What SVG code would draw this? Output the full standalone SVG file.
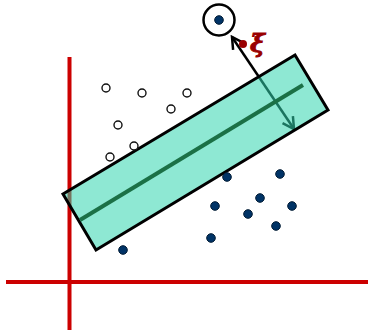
<svg xmlns="http://www.w3.org/2000/svg" width="368" height="332" viewBox="0 0 368 332">
<style>
.axis{stroke:#cc0000;stroke-width:4;fill:none}
.open{fill:#fff;stroke:#111;stroke-width:1.4}
.full{fill:#003366;stroke:#001a33;stroke-width:1}
.band{fill:#31d5af;fill-opacity:0.55;stroke:#000;stroke-width:3;stroke-linejoin:miter}
.mid{stroke:#1b7046;stroke-width:4;stroke-linecap:butt}
.arrow{stroke:#000;stroke-width:2.5;fill:none}
.xi{font-family:"DejaVu Serif",serif;font-style:italic;font-weight:bold;font-size:25px;fill:#990000;stroke:#990000;stroke-width:1}
</style>
<defs>
<marker id="ah" viewBox="0 0 12 12" refX="10" refY="6" markerWidth="6" markerHeight="6" orient="auto-start-reverse" markerUnits="strokeWidth">
<path d="M1,1 L10,6 L1,11" fill="none" stroke="#000" stroke-width="2"/>
</marker>
</defs>
<g id="axes">
<line class="axis" x1="6" y1="282" x2="368" y2="282"/>
<line class="axis" x1="69.5" y1="57" x2="69.5" y2="330"/>
</g>
<g id="connectors">
<line class="arrow" x1="232" y1="37" x2="294" y2="129" marker-start="url(#ah)" marker-end="url(#ah)"/>
</g>
<g id="margin">
<polygon class="band" points="63,194 295,55 328,110 96,250"/>
<line class="mid" x1="80" y1="220" x2="303" y2="85"/>
</g>
<g id="class-open">
<circle class="open" cx="106" cy="88" r="4"/>
<circle class="open" cx="142" cy="93" r="4"/>
<circle class="open" cx="187" cy="93" r="4"/>
<circle class="open" cx="171" cy="109" r="4"/>
<circle class="open" cx="118" cy="125" r="4"/>
<circle class="open" cx="134" cy="146" r="4"/>
<circle class="open" cx="110" cy="157" r="4"/>
</g>
<g id="class-filled">
<circle class="full" cx="227" cy="177" r="4.3"/>
<circle class="full" cx="280" cy="174" r="4.3"/>
<circle class="full" cx="260" cy="198" r="4.3"/>
<circle class="full" cx="215" cy="206" r="4.3"/>
<circle class="full" cx="248" cy="214" r="4.3"/>
<circle class="full" cx="292" cy="206" r="4.3"/>
<circle class="full" cx="276" cy="226" r="4.3"/>
<circle class="full" cx="211" cy="238" r="4.3"/>
<circle class="full" cx="123" cy="250" r="4.3"/>
</g>
<g id="outlier">
<circle cx="219" cy="20" r="15.5" fill="#fff" stroke="#000" stroke-width="2.5"/>
<circle class="full" cx="219" cy="20" r="4.3"/>
</g>
<g id="slack">
<circle cx="243" cy="44" r="4" fill="#990000"/>
<text class="xi" x="250" y="52">ξ</text>
</g>
</svg>
